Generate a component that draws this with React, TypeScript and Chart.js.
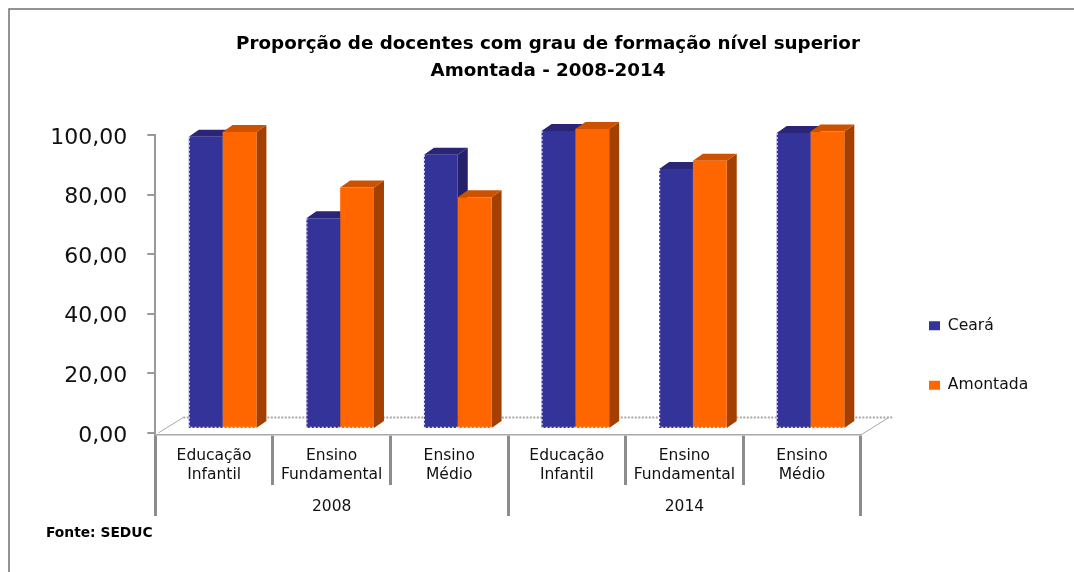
import React, { useEffect, useRef } from "react";
import { Chart, registerables } from "chart.js";

Chart.register(...registerables);

const categories = [
  ["Educação", "Infantil"],
  ["Ensino", "Fundamental"],
  ["Ensino", "Médio"],
  ["Educação", "Infantil"],
  ["Ensino", "Fundamental"],
  ["Ensino", "Médio"],
];
const years = ["2008", "2014"];
const ceara = [98.1, 70.7, 92, 100, 87.2, 99.3];
const amontada = [99.7, 81, 77.8, 100.7, 90, 99.8];
const yTicks = [0, 20, 40, 60, 80, 100];
const titleLines = ["Proporção de docentes com grau de formação nível superior", "Amontada - 2008-2014"];
const sourceNote = "Fonte: SEDUC";

const FONT = "'DejaVu Sans'";
const BAR_DX = 8.5;
const BAR_DY = -4;
const DEPTH_X = 10;
const DEPTH_Y = 7;

const poly = (ctx: CanvasRenderingContext2D, pts: number[][], fill: string) => {
  ctx.beginPath();
  pts.forEach(([x, y], i) => (i ? ctx.lineTo(x, y) : ctx.moveTo(x, y)));
  ctx.closePath();
  ctx.fillStyle = fill;
  ctx.fill();
};

const chartDecor = {
  id: "chartDecor",
  afterUpdate(chart: any) {
    const lg = chart.legend;
    lg.top += 82;
    lg.bottom += 82;
    const shift = 931 - 46 - lg.left;
    lg.left += shift;
    lg.right += shift;
    const tb = chart.titleBlock;
    const titleShift = 548 - (tb.left + tb.right) / 2;
    tb.left += titleShift;
    tb.right += titleShift;
  },
  beforeDraw(chart: any) {
    const { ctx, width, height, chartArea: a } = chart;
    const y = chart.scales.y;
    const items = y._computeLabelItems(a);
    items.forEach((item: any) => {
      item.textOffset += 3;
    });
    y._labelItems = items;
    ctx.save();
    ctx.strokeStyle = "#707070";
    ctx.lineWidth = 1.5;
    ctx.strokeRect(9, 9, width + 20, height + 20);
    ctx.strokeStyle = "#a8a8a8";
    ctx.lineWidth = 2;
    ctx.setLineDash([2, 1.5]);
    ctx.beginPath();
    ctx.moveTo(a.left + 28, a.bottom - 17.5);
    ctx.lineTo(a.right + 32, a.bottom - 17.5);
    ctx.stroke();
    ctx.setLineDash([]);
    ctx.lineWidth = 1;
    ctx.beginPath();
    ctx.moveTo(a.left + 3, a.bottom - 2);
    ctx.lineTo(a.left + 28, a.bottom - 17.5);
    ctx.moveTo(a.right, a.bottom);
    ctx.lineTo(a.right + 28, a.bottom - 17.5);
    ctx.stroke();
    ctx.restore();
  },
  beforeDatasetsDraw(chart: any) {
    const { ctx } = chart;
    ctx.save();
    ctx.translate(BAR_DX, BAR_DY);
    const shades = [
      { top: "#2a2577", side: "#25206a" },
      { top: "#cc5200", side: "#a34000" },
    ];
    chart.data.datasets.forEach((_: any, d: number) => {
      chart.getDatasetMeta(d).data.forEach((bar: any) => {
        const l = bar.x - bar.width / 2;
        const r = bar.x + bar.width / 2;
        const t = bar.y;
        const b = bar.base;
        poly(ctx, [[r, t], [r + DEPTH_X, t - DEPTH_Y], [r + DEPTH_X, b - DEPTH_Y], [r, b]], shades[d].side);
        poly(ctx, [[l, t], [l + DEPTH_X, t - DEPTH_Y], [r + DEPTH_X, t - DEPTH_Y], [r, t]], shades[d].top);
      });
    });
  },
  afterDatasetsDraw(chart: any) {
    const { ctx } = chart;
    ctx.strokeStyle = "rgba(255,255,255,0.8)";
    ctx.lineWidth = 1.2;
    ctx.setLineDash([2, 2]);
    chart.data.datasets.forEach((_: any, d: number) => {
      chart.getDatasetMeta(d).data.forEach((bar: any) => {
        const l = bar.x - bar.width / 2;
        const r = bar.x + bar.width / 2;
        ctx.beginPath();
        if (d === 0) {
          ctx.moveTo(l + 0.5, bar.y);
          ctx.lineTo(l + 0.5, bar.base - 0.5);
          ctx.lineTo(r, bar.base - 0.5);
        } else {
          ctx.moveTo(l, bar.base - 0.5);
          ctx.lineTo(r, bar.base - 0.5);
        }
        ctx.stroke();
      });
    });
    ctx.setLineDash([]);
    ctx.restore();
  },
  afterDraw(chart: any) {
    const { ctx } = chart;
    ctx.save();
    ctx.font = `bold 13.8px ${FONT}`;
    ctx.fillStyle = "#000";
    ctx.textBaseline = "middle";
    ctx.fillText(sourceNote, 46, 533);
    ctx.restore();
  },
};

export default function App() {
  const ref = useRef<HTMLCanvasElement>(null);
  useEffect(() => {
    const chart = new Chart(ref.current!, {
      type: "bar",
      plugins: [chartDecor],
      data: {
        labels: categories as any,
        datasets: [
          { label: "Ceará", data: ceara, backgroundColor: "#333399", categoryPercentage: 0.575, barPercentage: 1, clip: false as any },
          { label: "Amontada", data: amontada, backgroundColor: "#ff6600", categoryPercentage: 0.575, barPercentage: 1, clip: false as any },
        ],
      },
      options: {
        animation: false,
        responsive: false,
        layout: { padding: { top: 31, right: 60, left: 0, bottom: 56 } },
        plugins: {
          title: {
            display: true,
            text: titleLines,
            color: "#000",
            font: { family: FONT, size: 18.3, weight: "bold", lineHeight: 1.475 },
            padding: { top: 0, bottom: 50 },
          },
          legend: {
            display: true,
            position: "right",
            align: "center",
            labels: {
              boxWidth: 11,
              boxHeight: 9,
              padding: 44,
              color: "#111",
              font: { family: FONT, size: 15.6 },
            },
          },
          tooltip: { enabled: false },
        },
        scales: {
          y: {
            min: -0.7,
            max: 100,
            afterBuildTicks(axis: any) {
              axis.ticks = yTicks.map((value) => ({ value }));
            },
            afterFit(axis: any) {
              axis.width = 155.3;
            },
            ticks: {
              color: "#111",
              font: { family: FONT, size: 22 },
              padding: 20,
              callback: (v: any) => Number(v).toFixed(2).replace(".", ","),
            },
            grid: { drawOnChartArea: false, color: "#999", lineWidth: 2, tickLength: 8 },
            border: { color: "#999", width: 2 },
          },
          x: {
            offset: true,
            afterFit(axis: any) {
              axis.height = 50;
            },
            ticks: { color: "#111", font: { family: FONT, size: 15.5, lineHeight: 1.23 }, padding: -39, maxRotation: 0, autoSkip: false },
            grid: { drawOnChartArea: false, color: "#8c8c8c", lineWidth: 3, tickLength: 50, offset: true },
            border: { color: "#aaa", width: 1.5 },
          },
          x2: {
            type: "category",
            position: "bottom",
            labels: years,
            offset: true,
            afterFit(axis: any) {
              axis.height = 31;
            },
            ticks: { color: "#111", font: { family: FONT, size: 15.5 }, padding: -18, maxRotation: 0 },
            grid: { drawOnChartArea: false, color: "#8c8c8c", lineWidth: 3, tickLength: 31, offset: true },
            border: { display: false },
          } as any,
        },
      },
    });
    return () => chart.destroy();
  }, []);
  return <canvas ref={ref} width={1074} height={572} style={{ display: "block", position: "absolute", left: 0, top: 0 }} />;
}
